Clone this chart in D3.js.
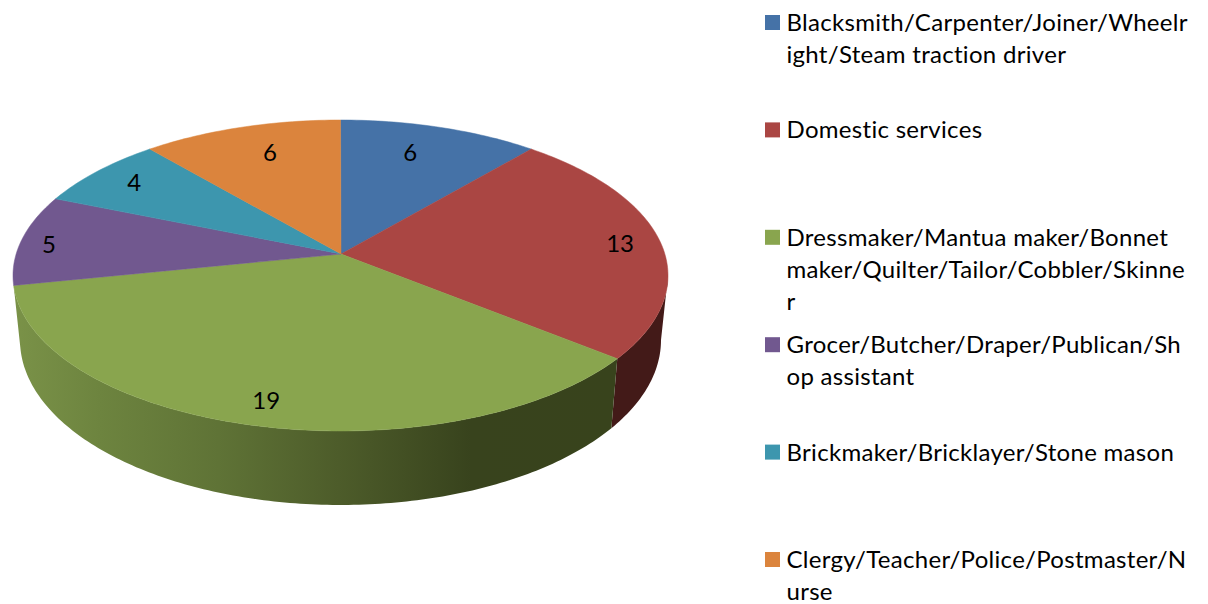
<!DOCTYPE html>
<html>
<head>
<meta charset="utf-8">
<script src="https://cdnjs.cloudflare.com/ajax/libs/d3/7.8.5/d3.min.js"></script>
<style>
html,body{margin:0;padding:0;background:#fff;}
svg{display:block;}
text{font-family:Lato,"Open Sans",sans-serif;fill:#000;font-variant-ligatures:none;}
</style>
</head>
<body>
<svg id="chart" width="1208" height="604"></svg>
<script>
var categories = [
	"Blacksmith/Carpenter/Joiner/Wheelwright/Steam traction driver",
	"Domestic services",
	"Dressmaker/Mantua maker/Bonnet maker/Quilter/Tailor/Cobbler/Skinner",
	"Grocer/Butcher/Draper/Publican/Shop assistant",
	"Brickmaker/Bricklayer/Stone mason",
	"Clergy/Teacher/Police/Postmaster/Nurse"
];
var values = [6, 13, 19, 5, 4, 6];
//legend text wraps mid word in the original, so lines are kept as they are
var legendLines = [
	["Blacksmith/Carpenter/Joiner/Wheelr", "ight/Steam traction driver"],
	["Domestic services"],
	["Dressmaker/Mantua maker/Bonnet", "maker/Quilter/Tailor/Cobbler/Skinne", "r"],
	["Grocer/Butcher/Draper/Publican/Sh", "op assistant"],
	["Brickmaker/Bricklayer/Stone mason"],
	["Clergy/Teacher/Police/Postmaster/N", "urse"]
];
var colors = ["#4572a7", "#aa4643", "#89a54e", "#71588f", "#3d96ae", "#db843d"];

///some constance:
var apex = {x: 341, y: 254};//where the slices meet, not the ellipse centre because of perspective
var top_e = {cx: 340.5, cy: 275.5, rx: 327.5, ry: 155.5};
var low_e = {cx: 340.5, cy: 340, rx: 320.5, ry: 165};
var persp = 0.865;
var font_size = 24;
var letter_gap = 0.3;
//how far along apex->rim each value label sits, x and y
var labelFit = [[.70, .80], [.877, .70], [.84, .86], [.915, .64], [.85, .855], [.71, .80]];

var svg = d3.select("#chart");

var pie = d3.pie().sort(null)(values);

//perspective: data angle to angle on the drawn ellipse
function warp(a) {
	var turns = Math.round(a / (2 * Math.PI));
	var rest = a - turns * 2 * Math.PI;
	return turns * 2 * Math.PI + 2 * Math.atan(persp * Math.tan(rest / 2));
}
function onEllipse(e, phi) {
	return [e.cx + e.rx * Math.sin(phi), e.cy - e.ry * Math.cos(phi)];
}
function sweep(a0, a1) {
	var n = Math.max(2, Math.ceil(Math.abs(a1 - a0) * 60));
	return d3.range(n + 1).map(function (i) { return a0 + (a1 - a0) * i / n; });
}
var line = d3.line();

///side wall gradient
var grad = svg.append("defs").append("linearGradient")
	.attr("id", "wallGreen")
	.attr("gradientUnits", "userSpaceOnUse")
	.attr("x1", 14).attr("x2", 615).attr("y1", 0).attr("y2", 0);
grad.selectAll("stop")
	.data([[0, "#7a9248"], [.143, "#6d843f"], [.34, "#5f7336"], [.54, "#4d5c2a"], [.76, "#38431d"], [1, "#38431c"]])
	.enter().append("stop")
	.attr("offset", function (d) { return d[0]; })
	.attr("stop-color", function (d) { return d[1]; });

//only red and green walls face the viewer
function wall(phi0, phi1, fill) {
	var s = sweep(phi0, phi1);
	var pts = s.map(function (p) { return onEllipse(top_e, p); })
		.concat(s.slice().reverse().map(function (p) { return onEllipse(low_e, p); }));
	svg.append("path").attr("d", line(pts) + "Z").attr("fill", fill);
}
wall(Math.PI / 2, warp(pie[1].endAngle), "#431a18");
wall(warp(pie[2].startAngle), warp(pie[2].endAngle), "url(#wallGreen)");

///top face
svg.selectAll("path.slice")
	.data(pie)
	.enter().append("path")
	.attr("class", "slice")
	.attr("fill", function (d, i) { return colors[i]; })
	.attr("stroke", function (d, i) { return colors[i]; })
	.attr("stroke-width", 0.5)
	.attr("d", function (d) {
		var pts = sweep(warp(d.startAngle), warp(d.endAngle)).map(function (p) { return onEllipse(top_e, p); });
		return line([[apex.x, apex.y]].concat(pts)) + "Z";
	});

///value labels
svg.selectAll("text.val")
	.data(pie)
	.enter().append("text")
	.attr("class", "val")
	.attr("text-anchor", "middle")
	.style("font-size", font_size + "px")
	.attr("x", function (d, i) {
		var r = onEllipse(top_e, warp((d.startAngle + d.endAngle) / 2));
		return apex.x + (r[0] - apex.x) * labelFit[i][0];
	})
	.attr("y", function (d, i) {
		var r = onEllipse(top_e, warp((d.startAngle + d.endAngle) / 2));
		return apex.y + (r[1] - apex.y) * labelFit[i][1] + 8;
	})
	.text(function (d) { return d.value; });

///legend
var legendY = d3.scalePoint().domain(categories).range([15, 552]);
var oLegend = svg.selectAll("g.legend")
	.data(categories)
	.enter().append("g")
	.attr("class", "legend")
	.attr("transform", function (d) { return "translate(765," + legendY(d) + ")"; });
oLegend.append("rect")
	.attr("width", 15).attr("height", 15)
	.attr("fill", function (d, i) { return colors[i]; });
oLegend.each(function (d, i) {
	d3.select(this).selectAll("text")
		.data(legendLines[i])
		.enter().append("text")
		.attr("x", 21.5)
		.attr("y", function (l, j) { return 16 + j * 32; })
		.style("font-size", font_size + "px")
		.style("letter-spacing", letter_gap + "px")
		.text(function (l) { return l; });
});
</script>
</body>
</html>
